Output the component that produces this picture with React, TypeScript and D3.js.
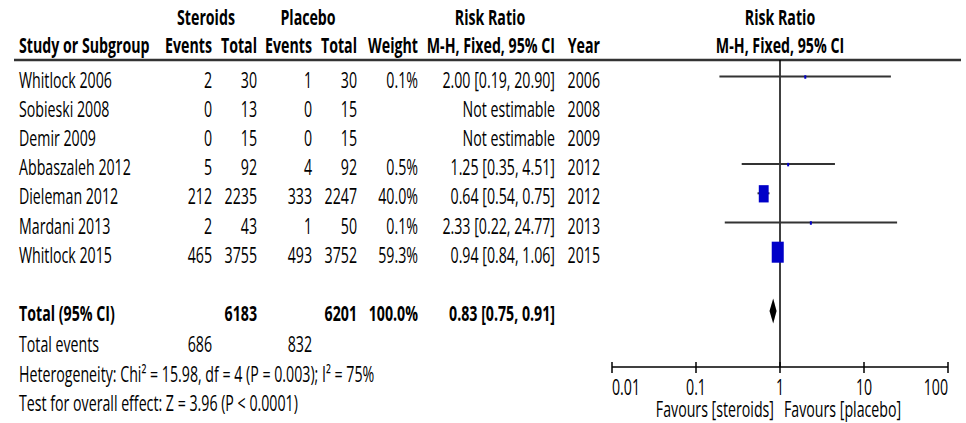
import * as d3 from "d3";

const studies = ["Whitlock 2006", "Sobieski 2008", "Demir 2009", "Abbaszaleh 2012", "Dieleman 2012", "Mardani 2013", "Whitlock 2015"];
const steroidEvents = [2, 0, 0, 5, 212, 2, 465];
const steroidTotals = [30, 13, 15, 92, 2235, 43, 3755];
const placeboEvents = [1, 0, 0, 4, 333, 1, 493];
const placeboTotals = [30, 15, 15, 92, 2247, 50, 3752];
const weights = [0.1, null, null, 0.5, 40.0, 0.1, 59.3];
const ratios = [2.0, null, null, 1.25, 0.64, 2.33, 0.94];
const lower = [0.19, null, null, 0.35, 0.54, 0.22, 0.84];
const upper = [20.9, null, null, 4.51, 0.75, 24.77, 1.06];
const years = [2006, 2008, 2009, 2012, 2012, 2013, 2015];

const total = { ratio: 0.83, lo: 0.75, hi: 0.91, steroids: 6183, placebo: 6201, events1: 686, events2: 832 };
const axisTicks = [0.01, 0.1, 1, 10, 100];
const axisTickLabels = ["0.01", "0.1", "1", "10", "100"];

const width = 966;
const height = 423;
const SX = 0.66;
const FONT = "'Open Sans', 'Liberation Sans', sans-serif";

// column anchors
const col = {
  study: 19,
  ev1: 212,
  tot1: 257,
  ev2: 312,
  tot2: 357,
  weight: 418,
  ci: 555,
  year: 600,
};

function T({ x, y, anchor = "start", bold = false, size = 21.5, children }: any) {
  return (
    <text
      transform={`translate(${x},${y}) scale(${SX},1)`}
      textAnchor={anchor}
      fontWeight={bold ? 700 : 400}
      fontSize={size}
      fill="#000"
    >
      {children}
    </text>
  );
}

const fmt2 = d3.format(".2f");
const fmtW = (w: number) => d3.format(".1f")(w) + "%";

export default function App() {
  const x = d3.scaleLog().domain([0.01, 100]).range([612, 948]);
  const row = d3.scaleLinear().domain([0, 1]).range([87.5, 116.7]); // text baselines
  const axisY = 367;
  const boxK = 1.56;

  return (
    <div style={{ position: "absolute", left: 0, top: 0 }}>
      <svg width={width} height={height} style={{ fontFamily: FONT, display: "block", background: "#fff" }}>
        {/* header row 1 */}
        <T x={206} y={25} anchor="middle" bold>Steroids</T>
        <T x={308} y={25} anchor="middle" bold>Placebo</T>
        <T x={490} y={25} anchor="middle" bold>Risk Ratio</T>
        <T x={780} y={25} anchor="middle" bold>Risk Ratio</T>
        {/* header row 2 */}
        <T x={col.study} y={53} bold>Study or Subgroup</T>
        <T x={col.ev1} y={53} anchor="end" bold>Events</T>
        <T x={col.tot1} y={53} anchor="end" bold>Total</T>
        <T x={col.ev2} y={53} anchor="end" bold>Events</T>
        <T x={col.tot2} y={53} anchor="end" bold>Total</T>
        <T x={col.weight} y={53} anchor="end" bold>Weight</T>
        <T x={col.ci} y={53} anchor="end" bold>M-H, Fixed, 95% CI</T>
        <T x={col.year} y={53} anchor="end" bold>Year</T>
        <T x={780} y={53} anchor="middle" bold>M-H, Fixed, 95% CI</T>
        <line x1={14} x2={961} y1={60} y2={60} stroke="#333" strokeWidth={2.5} />

        {/* reference line at RR = 1 */}
        <line x1={x(1)} x2={x(1)} y1={60} y2={axisY} stroke="#000" strokeWidth={1.5} />

        {studies.map((s, i) => {
          const y = row(i);
          const w = weights[i];
          const r = ratios[i];
          const lo = lower[i];
          const hi = upper[i];
          const bw = w != null ? Math.max(2, boxK * Math.sqrt(w)) : 0;
          const bh = bw * 1.75;
          return (
            <g key={s}>
              <T x={col.study} y={y}>{s}</T>
              <T x={col.ev1} y={y} anchor="end">{steroidEvents[i]}</T>
              <T x={col.tot1} y={y} anchor="end">{steroidTotals[i]}</T>
              <T x={col.ev2} y={y} anchor="end">{placeboEvents[i]}</T>
              <T x={col.tot2} y={y} anchor="end">{placeboTotals[i]}</T>
              {w != null && <T x={col.weight} y={y} anchor="end">{fmtW(w)}</T>}
              <T x={col.ci} y={y} anchor="end">
                {r != null ? `${fmt2(r)} [${fmt2(lo as number)}, ${fmt2(hi as number)}]` : "Not estimable"}
              </T>
              <T x={col.year} y={y} anchor="end">{years[i]}</T>
              {r != null && (
                <g>
                  <line x1={x(lo as number)} x2={x(hi as number)} y1={y - 11} y2={y - 11} stroke="#333" strokeWidth={2} />
                  <rect x={x(r) - bw / 2} y={y - 10.5 - bh / 2} width={bw} height={bh} fill="#0000c8" />
                </g>
              )}
            </g>
          );
        })}

        {/* total row */}
        <T x={col.study} y={row(8)} bold>Total (95% CI)</T>
        <T x={col.tot1} y={row(8)} anchor="end" bold>{total.steroids}</T>
        <T x={col.tot2} y={row(8)} anchor="end" bold>{total.placebo}</T>
        <T x={col.weight} y={row(8)} anchor="end" bold>{fmtW(100)}</T>
        <T x={col.ci} y={row(8)} anchor="end" bold>{`${fmt2(total.ratio)} [${fmt2(total.lo)}, ${fmt2(total.hi)}]`}</T>
        <path
          d={`M${x(total.lo)},${row(8) - 10} L${x(total.ratio)},${row(8) - 22.5} L${x(total.hi)},${row(8) - 10} L${x(total.ratio)},${row(8) + 2.5} Z`}
          fill="#000"
        />

        <T x={col.study} y={352}>Total events</T>
        <T x={col.ev1} y={352} anchor="end">{total.events1}</T>
        <T x={col.ev2} y={352} anchor="end">{total.events2}</T>
        <T x={col.study} y={382}>Heterogeneity: Chi² = 15.98, df = 4 (P = 0.003); I² = 75%</T>
        <T x={col.study} y={411}>Test for overall effect: Z = 3.96 (P &lt; 0.0001)</T>

        {/* axis */}
        <line x1={x(0.01)} x2={x(100)} y1={axisY} y2={axisY} stroke="#000" strokeWidth={1.5} />
        {axisTicks.map((t, i) => (
          <g key={t}>
            <line x1={x(t)} x2={x(t)} y1={axisY - 5} y2={axisY + 6} stroke="#000" strokeWidth={1.5} />
            <T
              x={x(t)}
              y={395}
              anchor={i === 0 ? "start" : i === axisTicks.length - 1 ? "end" : "middle"}
            >
              {axisTickLabels[i]}
            </T>
          </g>
        ))}
        <T x={x(1) - 6} y={417} anchor="end">Favours [steroids]</T>
        <T x={x(1) + 4} y={417}>Favours [placebo]</T>
      </svg>
    </div>
  );
}
